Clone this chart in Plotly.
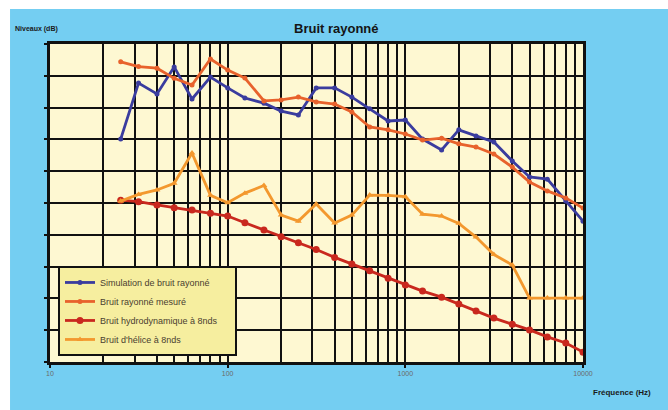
import plotly.graph_objects as go

# Third-octave band centre frequencies (Hz)
freqs = [25, 31.5, 40, 50, 63, 80, 100, 125, 160, 200, 250, 315, 400, 500,
         630, 800, 1000, 1250, 1600, 2000, 2500, 3150, 4000, 5000, 6300, 8000, 10000]

# Levels (dB)
simulation = [70.1, 87.7, 84.3, 92.8, 82.7, 89.6, 86.2, 83.0, 81.4, 78.9, 77.7, 86.2, 86.2, 83.3,
              79.6, 75.8, 76.1, 70.1, 66.7, 73.0, 71.1, 69.2, 63.2, 58.2, 57.5, 50.6, 44.3]
mesure = [94.4, 92.9, 92.4, 89.2, 87.1, 95.3, 91.8, 89.3, 82.1, 82.4, 83.3, 81.8, 81.1, 78.6,
          73.9, 73.0, 71.7, 69.8, 70.4, 68.6, 67.6, 65.4, 61.3, 56.6, 53.8, 51.6, 48.4]
hydro = [50.9, 50.4, 49.4, 48.5, 47.8, 46.8, 45.9, 43.8, 41.5, 39.4, 37.5, 35.4, 32.9, 30.8,
         28.7, 26.3, 24.2, 22.3, 20.4, 18.2, 16.0, 13.8, 11.9, 10.1, 7.9, 6.0, 3.1]
helice = [50.6, 52.7, 54.1, 56.2, 65.7, 52.4, 50.1, 53.1, 55.5, 46.2, 44.3, 49.7, 43.7, 46.2,
          52.5, 52.4, 52.0, 46.5, 45.9, 43.6, 39.3, 33.8, 30.5, 20.1, 20.1, 20.1, 20.1]

series_names = ["Simulation de bruit rayonné", "Bruit rayonné mesuré",
                "Bruit hydrodynamique à 8nds", "Bruit d'hélice à 8nds"]

decade_ticks = [10, 100, 1000, 10000]
decade_labels = ["10", "100", "1000", "10000"]
minor_ticks = [m * d for d in (10, 100, 1000) for m in range(2, 10)]

NARROW = "Liberation Sans Narrow, Arial Narrow, Liberation Sans, sans-serif"
PAD = "\u00a0" * 5  # extra room on the right of the legend box

fig = go.Figure()

styles = [
    (simulation, "#3A3C9E", "circle", 5, 2.8),
    (mesure, "#E8622C", "circle", 5, 2.8),
    (hydro, "#C9281E", "circle", 7, 2.8),
    (helice, "#F3982E", "triangle-up", 6, 2.8),
]
for i, (vals, col, sym, msz, lw) in enumerate(styles):
    label = series_names[i] + (PAD if i == 2 else "")
    fig.add_trace(go.Scatter(
        x=freqs, y=vals, name=label, mode="lines+markers",
        line=dict(color=col, width=lw),
        marker=dict(color=col, symbol=sym, size=msz),
        legendgroup=f"g{i}",
    ))

fig.update_layout(
    width=668, height=410,
    margin=dict(l=50, r=85, t=44, b=48),
    paper_bgcolor="#74CEF2",
    plot_bgcolor="#FEF8D2",
    showlegend=True,
    legend=dict(
        x=0.015, y=0.302, xanchor="left", yanchor="top",
        bgcolor="#F6EE9F", bordercolor="#111111", borderwidth=2,
        font=dict(family="Liberation Sans, Arial, sans-serif", size=9, color="#4A4030"),
        tracegroupgap=0, traceorder="grouped",
        itemwidth=30,
    ),
    xaxis=dict(
        type="log", range=[1, 4],
        tickvals=decade_ticks, ticktext=decade_labels,
        ticks="outside", ticklen=3, tickwidth=2, tickcolor="#111111",
        tickfont=dict(family=NARROW, size=7, color="#6A6A6A"),
        showgrid=True, gridcolor="#111111", gridwidth=2.4,
        minor=dict(tickvals=minor_ticks, showgrid=True, gridcolor="#111111", gridwidth=2.4,
                   ticks=""),
        showline=True, linecolor="#111111", linewidth=2.6, mirror=True,
        zeroline=False,
    ),
    yaxis=dict(
        range=[0, 100], dtick=10,
        showticklabels=False,
        ticks="outside", ticklen=3, tickwidth=2, tickcolor="#111111",
        showgrid=True, gridcolor="#111111", gridwidth=2.4,
        showline=True, linecolor="#111111", linewidth=2.6, mirror=True,
        zeroline=False,
    ),
    shapes=[
        # white strips along the top and left edges of the page
        dict(type="rect", xref="paper", yref="paper", x0=-0.2, x1=1.3, y0=1.110, y1=1.3,
             fillcolor="white", line=dict(width=0), layer="below"),
        dict(type="rect", xref="paper", yref="paper", x0=-0.2, x1=-0.075, y0=-0.3, y1=1.3,
             fillcolor="white", line=dict(width=0), layer="below"),
    ],
    annotations=[
        dict(text="<b>Bruit rayonné</b>", xref="paper", yref="paper", x=0.537, y=1.05,
             xanchor="center", yanchor="middle", showarrow=False,
             font=dict(family=NARROW, size=13, color="#151515")),
        dict(text="<b>Niveaux (dB)</b>", xref="paper", yref="paper", x=-0.069, y=1.047,
             xanchor="left", yanchor="middle", showarrow=False,
             font=dict(family=NARROW, size=7, color="#1A1A1A")),
        dict(text="<b>Fréquence (Hz)</b>", xref="paper", yref="paper", x=1.074, y=-0.097,
             xanchor="center", yanchor="middle", showarrow=False,
             font=dict(family=NARROW, size=8, color="#1A1A1A")),
    ],
)

fig.write_html("out.html")
